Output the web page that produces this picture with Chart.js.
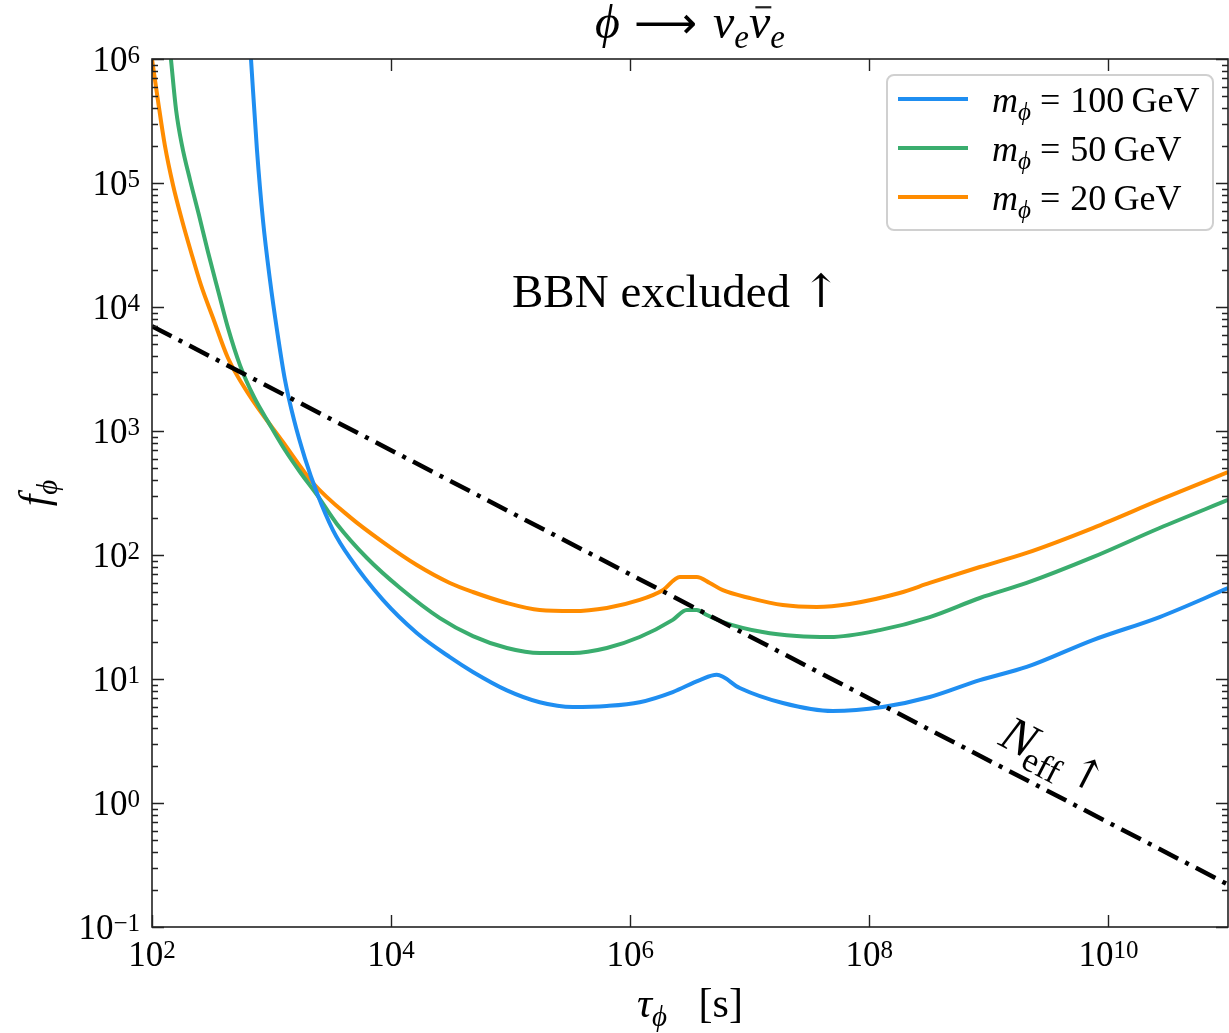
<!DOCTYPE html>
<html>
<head>
<meta charset="utf-8">
<script src="https://cdn.jsdelivr.net/npm/chart.js@4"></script>
<style>
  html, body { margin: 0; padding: 0; background: #fff; }
  canvas { display: block; }
</style>
</head>
<body>
<canvas id="grafico" width="1229" height="1033"></canvas>
<script>
// valores (tau en s, f adimensional)
const TAU_100 = [673, 755, 847, 970, 1110, 1295, 1540, 1900, 2400, 3260, 4530, 8540, 1.64e4, 3.1e4, 4.83e4, 9.3e4, 1.75e5, 3.31e5, 6.37e5, 1.2e6, 2.27e6, 3.82e6, 5.3e6, 8.24e6, 1.89e7, 4.94e7, 1.29e8, 3.2e8, 8.4e8, 2.07e9, 7.4e9, 2.68e10, 1e11];
const F_100 = [1e6, 1.85e5, 5.04e4, 1.65e4, 6530, 2580, 1230, 605, 316, 159, 94.6, 43.4, 23.5, 15, 11.4, 8.1, 6.5, 5.95, 6.06, 6.5, 7.85, 9.8, 10.8, 8.46, 6.4, 5.52, 5.95, 7.16, 9.8, 12.5, 20.6, 31.6, 54];

const TAU_50 = [144, 159, 178, 208, 247, 294, 356, 432, 544, 713, 970, 1295, 1730, 2400, 3520, 6280, 1.19e4, 2.56e4, 4.83e4, 9.3e4, 1.75e5, 3.31e5, 6.37e5, 1.2e6, 2.27e6, 2.97e6, 3.6e6, 4.37e6, 5.95e6, 1.28e7, 2.47e7, 4.67e7, 1.22e8, 3.2e8, 8.4e8, 2.07e9, 7.4e9, 2.68e10, 1e11];
const F_50 = [1e6, 3.88e5, 2.02e5, 1.06e5, 5.52e4, 2.78e4, 1.37e4, 6780, 3400, 1880, 1120, 703, 467, 305, 178, 94.6, 54.2, 31, 22.2, 17.8, 16.2, 16.2, 17.8, 21.8, 30, 36, 36, 32.8, 28.8, 23.9, 22.2, 21.8, 24.8, 31.6, 45, 59.5, 96, 165, 278];

const TAU_20 = [100, 112, 128, 150, 178, 212, 257, 324, 432, 635, 1245, 2220, 4530, 8540, 1.64e4, 3.1e4, 4.83e4, 9.3e4, 1.75e5, 3.31e5, 6.37e5, 1.2e6, 1.87e6, 2.6e6, 3.6e6, 4.63e6, 5.95e6, 1e7, 1.89e7, 3.63e7, 6.86e7, 1.79e8, 3.2e8, 8.4e8, 2.07e9, 7.4e9, 2.68e10, 1e11];
const F_20 = [1e6, 4.67e5, 2.02e5, 9.6e4, 5.04e4, 2.78e4, 1.5e4, 8150, 3880, 2020, 815, 381, 202, 127, 83, 59.5, 50.3, 41, 36, 35.3, 37.4, 43.4, 52, 66.5, 66.5, 59.5, 52, 45, 39.5, 38.1, 40.3, 49.4, 59.5, 80, 104, 165, 278, 467];

const TAU_NEFF = [1e2, 1e11];
const F_NEFF = [7000, 0.22];

const MASAS = ['100', '50', '20'];
const COLORES = ['#1f8ef1', '#3aad6e', '#ff8c00'];

const X_EXP = [2, 4, 6, 8, 10];
const Y_EXP = [-1, 0, 1, 2, 3, 4, 5, 6];

const FAM = '"Liberation Serif", "DejaVu Serif", serif';
const FLECHA = '"DejaVu Serif", serif';

function puntos(xs, ys) {
    return xs.map((x, i) => ({ x: x, y: ys[i] }));
}

// texto con sub/superindices
function fuente(p) {
    return (p.it ? 'italic ' : '') + p.s + 'px ' + (p.f || FAM);
}
function anchoRico(ctx, partes) {
    let w = 0;
    partes.forEach(p => { ctx.font = fuente(p); w += ctx.measureText(p.t).width + (p.gap || 0); });
    return w;
}
function textoRico(ctx, partes, x, y, align) {
    const w = anchoRico(ctx, partes);
    let cx = align === 'center' ? x - w / 2 : (align === 'right' ? x - w : x);
    ctx.textAlign = 'left';
    ctx.textBaseline = 'alphabetic';
    partes.forEach(p => {
        ctx.font = fuente(p);
        const pw = ctx.measureText(p.t).width;
        ctx.fillText(p.t, cx, y + (p.dy || 0));
        if (p.bar) {
            ctx.save();
            ctx.lineWidth = 2.2;
            ctx.beginPath();
            ctx.moveTo(cx + pw * 0.3, y - p.s * 0.64);
            ctx.lineTo(cx + pw * 1.05, y - p.s * 0.64);
            ctx.stroke();
            ctx.restore();
        }
        cx += pw + (p.gap || 0);
    });
}
function potencia(e, s) {
    const sup = e < 0 ? '\u2212' + Math.abs(e) : String(e);
    return [{ t: '10', s: s }, { t: sup, s: Math.round(s * 0.72), dy: -8.5 }];
}

const decor = {
    id: 'decor',
    beforeDraw(chart) {
        const ctx = chart.ctx;
        ctx.save();
        ctx.fillStyle = '#fff';
        ctx.fillRect(0, 0, chart.width, chart.height);
        ctx.restore();
    },
    afterDatasetsDraw(chart) {
        const ctx = chart.ctx;
        ctx.save();
        ctx.fillStyle = '#000';
        ctx.strokeStyle = '#000';

        // leyenda
        const lx = 887, ly = 75, lw = 326, lh = 155;
        ctx.beginPath();
        ctx.roundRect(lx, ly, lw, lh, 7);
        ctx.fillStyle = 'rgba(255,255,255,0.85)';
        ctx.fill();
        ctx.strokeStyle = '#d0d0d0';
        ctx.lineWidth = 2;
        ctx.stroke();
        MASAS.forEach((m, i) => {
            const yy = 99 + i * 49;
            ctx.strokeStyle = COLORES[i];
            ctx.lineWidth = 4;
            ctx.beginPath();
            ctx.moveTo(898, yy);
            ctx.lineTo(968, yy);
            ctx.stroke();
            ctx.fillStyle = '#000';
            textoRico(ctx, [
                { t: 'm', s: 36, it: true },
                { t: '\u03d5', s: 25, it: true, dy: 8, gap: 9 },
                { t: '=', s: 36, gap: 10 },
                { t: m + '\u2009GeV', s: 36 }
            ], 992, yy + 13, 'left');
        });

        // anotaciones
        ctx.fillStyle = '#000';
        textoRico(ctx, [
            { t: 'BBN excluded ', s: 47 },
            { t: '\u2191', s: 46, f: FLECHA }
        ], 512, 307, 'left');

        ctx.save();
        ctx.translate(997, 744);
        ctx.rotate(Math.atan(0.517));
        textoRico(ctx, [
            { t: 'N', s: 50, it: true, gap: -3 },
            { t: 'eff', s: 35, dy: 10, gap: 8 },
            { t: '\u2191', s: 42, f: FLECHA }
        ], 0, 0, 'left');
        ctx.restore();
        ctx.restore();
    },
    afterDraw(chart) {
        const ctx = chart.ctx;
        const a = chart.chartArea;
        const xs = chart.scales.x, ys = chart.scales.y;
        ctx.save();
        ctx.strokeStyle = '#222';
        ctx.fillStyle = '#000';

        // marco
        ctx.lineWidth = 1.6;
        ctx.strokeRect(a.left, a.top, a.right - a.left, a.bottom - a.top);

        // marcas hacia adentro
        ctx.lineWidth = 1.4;
        ctx.beginPath();
        X_EXP.forEach(e => {
            const px = Math.round(xs.getPixelForValue(Math.pow(10, e))) + 0.5;
            ctx.moveTo(px, a.bottom); ctx.lineTo(px, a.bottom - 12);
            ctx.moveTo(px, a.top); ctx.lineTo(px, a.top + 12);
        });
        for (let e = -1; e <= 6; e++) {
            const py = Math.round(ys.getPixelForValue(Math.pow(10, e))) + 0.5;
            ctx.moveTo(a.left, py); ctx.lineTo(a.left + 12, py);
            ctx.moveTo(a.right, py); ctx.lineTo(a.right - 12, py);
            if (e < 6) {
                for (let k = 2; k <= 9; k++) {
                    const pm = Math.round(ys.getPixelForValue(k * Math.pow(10, e))) + 0.5;
                    ctx.moveTo(a.left, pm); ctx.lineTo(a.left + 6, pm);
                    ctx.moveTo(a.right, pm); ctx.lineTo(a.right - 6, pm);
                }
            }
        }
        ctx.stroke();

        // etiquetas de los ejes
        Y_EXP.forEach(e => {
            const py = ys.getPixelForValue(Math.pow(10, e));
            textoRico(ctx, potencia(e, 35), 140, py + 12, 'right');
        });
        X_EXP.forEach(e => {
            const px = xs.getPixelForValue(Math.pow(10, e));
            textoRico(ctx, potencia(e, 35), px, a.bottom + 39, 'center');
        });

        // titulo
        textoRico(ctx, [
            { t: '\u03d5', s: 48, it: true, gap: 14 },
            { t: '\u27f6', s: 44, f: '"DejaVu Sans", sans-serif', gap: 16 },
            { t: '\u03bd', s: 48, it: true },
            { t: 'e', s: 33, it: true, dy: 10 },
            { t: '\u03bd', s: 48, it: true, bar: true },
            { t: 'e', s: 33, it: true, dy: 10 }
        ], (a.left + a.right) / 2, 38, 'center');

        // titulo eje x
        textoRico(ctx, [
            { t: '\u03c4', s: 42, it: true },
            { t: '\u03d5', s: 29, it: true, dy: 9 },
            { t: '   [s]', s: 42 }
        ], (a.left + a.right) / 2, 1017, 'center');

        // titulo eje y
        ctx.save();
        ctx.translate(48, (a.top + a.bottom) / 2);
        ctx.rotate(-Math.PI / 2);
        textoRico(ctx, [
            { t: 'f', s: 42, it: true },
            { t: '\u03d5', s: 29, it: true, dy: 9 }
        ], 0, 0, 'center');
        ctx.restore();

        ctx.restore();
    }
};

const conjuntos = [
    {
        label: 'N_eff',
        data: puntos(TAU_NEFF, F_NEFF),
        borderColor: '#000',
        borderWidth: 4.5,
        borderDash: [22, 8, 4, 8],
        pointRadius: 0,
        tension: 0,
        clip: 0
    }
];
[[TAU_100, F_100], [TAU_50, F_50], [TAU_20, F_20]].forEach((s, i) => {
    conjuntos.push({
        label: 'm = ' + MASAS[i] + ' GeV',
        data: puntos(s[0], s[1]),
        borderColor: COLORES[i],
        borderWidth: 4,
        pointRadius: 0,
        cubicInterpolationMode: 'monotone',
        clip: 0
    });
});

new Chart(document.getElementById('grafico'), {
    type: 'line',
    data: { datasets: conjuntos },
    options: {
        responsive: false,
        animation: false,
        layout: { padding: { left: 152, top: 59, right: 1, bottom: 106 } },
        plugins: { legend: { display: false }, tooltip: { enabled: false } },
        scales: {
            x: { type: 'logarithmic', min: 1e2, max: 1e11, display: false },
            y: { type: 'logarithmic', min: 1e-1, max: 1e6, display: false }
        }
    },
    plugins: [decor]
});
</script>
</body>
</html>
